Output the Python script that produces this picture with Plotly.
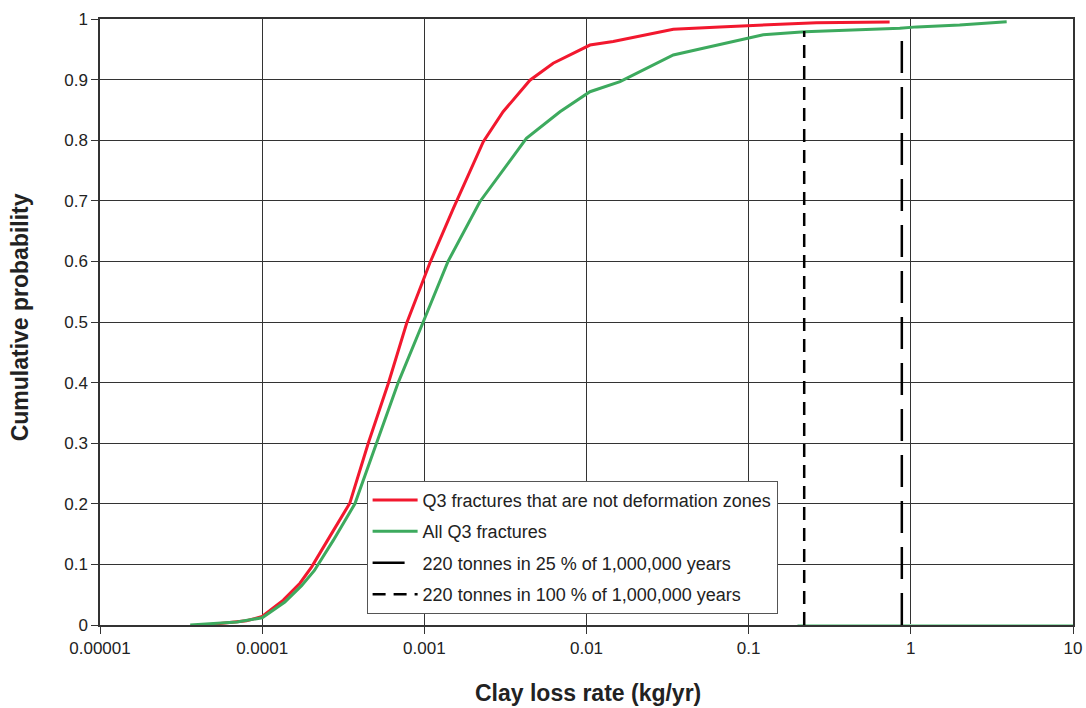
import plotly.graph_objects as go

# ---- data ----
red_x = [4.5e-5, 6e-5, 8e-5, 1e-4, 1.35e-4, 1.71e-4, 2.02e-4, 2.6e-4, 3.47e-4, 4.51e-4,
         6.0e-4, 7.78e-4, 1.08e-3, 1.51e-3, 2.31e-3, 3.06e-3, 4.48e-3, 6.23e-3, 0.0105,
         0.0146, 0.0234, 0.0343, 0.0664, 0.112, 0.262, 0.74]
red_p = [0, 0.003, 0.007, 0.014, 0.041, 0.069, 0.096, 0.145, 0.201, 0.30,
         0.399, 0.498, 0.597, 0.6875, 0.7975, 0.847, 0.899, 0.927, 0.957,
         0.963, 0.974, 0.983, 0.987, 0.990, 0.994, 0.995]

green_x = [3.6e-5, 5e-5, 7e-5, 1e-4, 1.38e-4, 1.75e-4, 2.1e-4, 2.75e-4, 3.73e-4, 5.07e-4,
           6.9e-4, 9.84e-4, 1.40e-3, 2.2e-3, 4.26e-3, 6.86e-3, 0.0105, 0.0161, 0.0234,
           0.0343, 0.0524, 0.112, 0.123, 0.222, 0.855, 1.09, 2.0, 3.9]
green_p = [0, 0.002, 0.005, 0.012, 0.038, 0.065, 0.09, 0.14, 0.2, 0.3,
           0.4, 0.5, 0.6, 0.6985, 0.803, 0.847, 0.88, 0.8966, 0.9186,
           0.9406, 0.9517, 0.9708, 0.974, 0.979, 0.9846, 0.987, 0.99, 0.9955]

green_base_x = [0.2, 10]
green_base_p = [0, 0]

rate_25pct = 0.88    # 220 t over 250,000 yr (kg/yr)
rate_100pct = 0.22   # 220 t over 1,000,000 yr (kg/yr)
vline_p = [0, 0.98]

x_tickvals = [1e-5, 1e-4, 1e-3, 1e-2, 1e-1, 1, 10]
x_ticktext = ["0.00001", "0.0001", "0.001", "0.01", "0.1", "1", "10"]
y_tickvals = [0, 0.1, 0.2, 0.3, 0.4, 0.5, 0.6, 0.7, 0.8, 0.9, 1]
y_ticktext = ["0", "0.1", "0.2", "0.3", "0.4", "0.5", "0.6", "0.7", "0.8", "0.9", "1"]

names = ["Q3 fractures that are not deformation zones", "All Q3 fractures",
         "220 tonnes in 25 % of 1,000,000 years", "220 tonnes in 100 % of 1,000,000 years"]
x_title = "Clay loss rate (kg/yr)"
y_title = "Cumulative probability"

RED = "#f2182e"
GREEN = "#3daa5e"
FONT = "Liberation Sans, Arial, sans-serif"

fig = go.Figure()
fig.add_trace(go.Scatter(x=green_base_x, y=green_base_p, mode="lines",
                         line=dict(color="#9fdcb2", width=2), showlegend=False, hoverinfo="skip"))
fig.add_trace(go.Scatter(x=red_x, y=red_p, mode="lines", name=names[0], legendgroup="a",
                         line=dict(color=RED, width=3)))
fig.add_trace(go.Scatter(x=green_x, y=green_p, mode="lines", name=names[1], legendgroup="b",
                         line=dict(color=GREEN, width=3)))
fig.add_trace(go.Scatter(x=[rate_25pct, rate_25pct], y=vline_p, mode="lines", name=names[2],
                         legendgroup="c", line=dict(color="black", width=2.5, dash="32px,14px")))
fig.add_trace(go.Scatter(x=[rate_100pct, rate_100pct], y=vline_p, mode="lines", name=names[3],
                         legendgroup="d", line=dict(color="black", width=2.5, dash="13px,8px")))

axis_font = dict(family=FONT, size=17, color="#222")
fig.update_layout(
    width=1086, height=708,
    margin=dict(l=100, r=13, t=19, b=83, autoexpand=False),
    paper_bgcolor="white", plot_bgcolor="white",
    font=dict(family=FONT, color="#222"),
    showlegend=True,
    legend=dict(x=0.274, y=0.238, xanchor="left", yanchor="top",
                bgcolor="white", bordercolor="#555", borderwidth=1,
                font=dict(family=FONT, size=18, color="#222"),
                tracegroupgap=5, traceorder="grouped", itemwidth=45),
    xaxis=dict(type="log", range=[-5, 1], tickvals=x_tickvals, ticktext=x_ticktext,
               automargin=False,
               showgrid=True, gridcolor="#333", gridwidth=1,
               showline=True, linecolor="#333", linewidth=1.5, mirror=True,
               ticks="outside", ticklen=7, tickcolor="#333", tickfont=axis_font,
               zeroline=False),
    yaxis=dict(range=[0, 1], tickvals=y_tickvals, ticktext=y_ticktext,
               automargin=False,
               showgrid=True, gridcolor="#333", gridwidth=1,
               showline=True, linecolor="#333", linewidth=1.5, mirror=True,
               ticks="outside", ticklen=7, tickcolor="#333", tickfont=axis_font,
               zeroline=False),
    annotations=[
        dict(text="<b>" + x_title + "</b>", xref="paper", yref="paper",
             x=0.502, y=-0.112, xanchor="center", yanchor="middle", showarrow=False,
             font=dict(family=FONT, size=23, color="#222")),
        dict(text="<b>" + y_title + "</b>", xref="paper", yref="paper",
             x=-0.082, y=0.508, xanchor="center", yanchor="middle", showarrow=False,
             textangle=-90, font=dict(family=FONT, size=23, color="#222")),
    ],
)

fig.write_html("out.html", config={"displayModeBar": False},
               post_script="document.body.style.margin='0';document.body.style.overflow='hidden';")
